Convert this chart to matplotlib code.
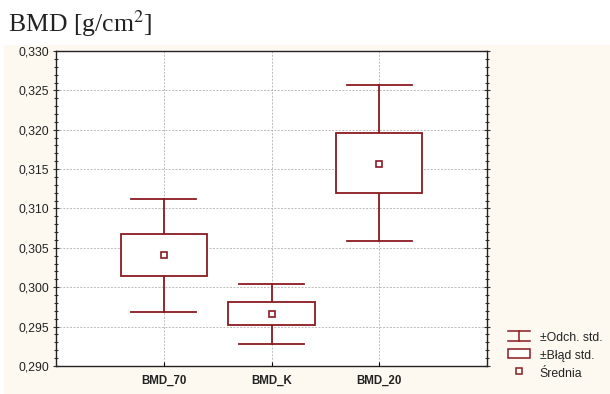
import matplotlib
matplotlib.use("Agg")
import matplotlib.pyplot as plt
from matplotlib.patches import Rectangle
from matplotlib.lines import Line2D
from matplotlib.ticker import MultipleLocator, FuncFormatter
from matplotlib.legend_handler import HandlerBase

categories = ["BMD_70", "BMD_K", "BMD_20"]
means = [0.30406, 0.29656, 0.31569]
se_low = [0.30143, 0.29517, 0.31200]
se_high = [0.30676, 0.29809, 0.31955]
sd_low = [0.29690, 0.29283, 0.30583]
sd_high = [0.31121, 0.30041, 0.32574]
yticks = [0.290, 0.295, 0.300, 0.305, 0.310, 0.315, 0.320, 0.325, 0.330]

RED = "#8b1a22"
CREAM = "#fdf9f0"

fig = plt.figure(figsize=(6.1, 3.94), dpi=100)
fig.patch.set_facecolor("white")
bg = Rectangle((4 / 610, 0), 1 - 4 / 610, 1 - 44.5 / 394,
               transform=fig.transFigure, facecolor=CREAM,
               edgecolor="none", zorder=-10)
fig.add_artist(bg)

ax = fig.add_axes([56 / 610, 1 - 366 / 394, (487 - 56) / 610, (366 - 51) / 394])
ax.set_zorder(5)
ax.set_facecolor("white")

xs = [1, 2, 3]
box_hw = 0.4
cap_hw = 0.3
for x, m, sl, sh, dl, dh in zip(xs, means, se_low, se_high, sd_low, sd_high):
    ax.plot([x, x], [dl, sl], color=RED, lw=1.3, zorder=3)
    ax.plot([x, x], [sh, dh], color=RED, lw=1.3, zorder=3)
    ax.plot([x - cap_hw, x + cap_hw], [dl, dl], color=RED, lw=1.3, zorder=3)
    ax.plot([x - cap_hw, x + cap_hw], [dh, dh], color=RED, lw=1.3, zorder=3)
    ax.add_patch(Rectangle((x - box_hw, sl), 2 * box_hw, sh - sl,
                           facecolor="white", edgecolor=RED, lw=1.3, zorder=3))
    ax.plot([x], [m], marker="s", ms=5, mfc="white", mec=RED, mew=1.2,
            ls="none", zorder=4)

ax.set_xlim(0, 4)
ax.set_ylim(0.290, 0.330)
ax.set_xticks(xs)
ax.set_xticklabels(categories, fontsize=8.3, fontweight="bold",
                   family="Liberation Sans", color="#222222")
ax.set_yticks(yticks)
ax.yaxis.set_major_formatter(FuncFormatter(lambda v, p: f"{v:.3f}".replace(".", ",")))
ax.yaxis.set_minor_locator(MultipleLocator(0.001))
for lab in ax.get_yticklabels():
    lab.set_family("Liberation Sans")
    lab.set_fontsize(8.8)
    lab.set_color("#222222")
ax.tick_params(axis="y", which="both", direction="inout", left=True, right=True,
               length=4, width=0.8, color="#333333", pad=3)
ax.tick_params(axis="y", which="minor", length=3)
ax.tick_params(axis="x", direction="in", length=3, width=0.8, pad=6)
ax.grid(True, which="major", color="#bbbbbb", ls=(0, (2, 1.5)), lw=0.7)
ax.set_axisbelow(True)
for s in ax.spines.values():
    s.set_color("#222222")
    s.set_linewidth(1.0)

fig.text(8 / 610, 1 - 8 / 394, r"BMD [g/cm$^2$]", family="Liberation Serif",
         fontsize=18.5, va="top", ha="left", color="#222222",
         math_fontfamily="stix")


class SDHandler(HandlerBase):
    def create_artists(self, legend, orig, xd, yd, w, h, fs, trans):
        x0, x1 = xd, xd + w
        xm = xd + w / 2
        y0, y1 = yd, yd + h
        arts = [Line2D([x0, x1], [y0, y0]), Line2D([x0, x1], [y1, y1]),
                Line2D([xm, xm], [y0, y1])]
        for a in arts:
            a.set_color(RED)
            a.set_linewidth(1.1)
            a.set_transform(trans)
        return arts


class SEHandler(HandlerBase):
    def create_artists(self, legend, orig, xd, yd, w, h, fs, trans):
        r = Rectangle((xd, yd), w, h, facecolor="white",
                      edgecolor=RED, lw=1.1, transform=trans)
        return [r]


class MeanHandler(HandlerBase):
    def create_artists(self, legend, orig, xd, yd, w, h, fs, trans):
        l = Line2D([xd + w / 2], [yd + h / 2], marker="s", ms=4.5, mfc="white",
                   mec=RED, mew=1.1, ls="none", transform=trans)
        return [l]


h1 = Line2D([], []); h2 = Rectangle((0, 0), 1, 1); h3 = Line2D([], [], marker="s")
leg = fig.legend([h1, h2, h3], ["±Odch. std.", "±Błąd std.", "Średnia"],
                 handler_map={h1: SDHandler(), h2: SEHandler(), h3: MeanHandler()},
                 loc="lower left", bbox_to_anchor=(506 / 610, 1 - 382 / 394),
                 borderaxespad=0,
                 frameon=False, prop={"family": "Liberation Sans", "size": 8.8},
                 handlelength=1.8, handleheight=0.85, handletextpad=0.75,
                 labelspacing=0.45, borderpad=0.2)
for t in leg.get_texts():
    t.set_color("#222222")

fig.savefig("out.png", dpi=100, facecolor=fig.get_facecolor())
